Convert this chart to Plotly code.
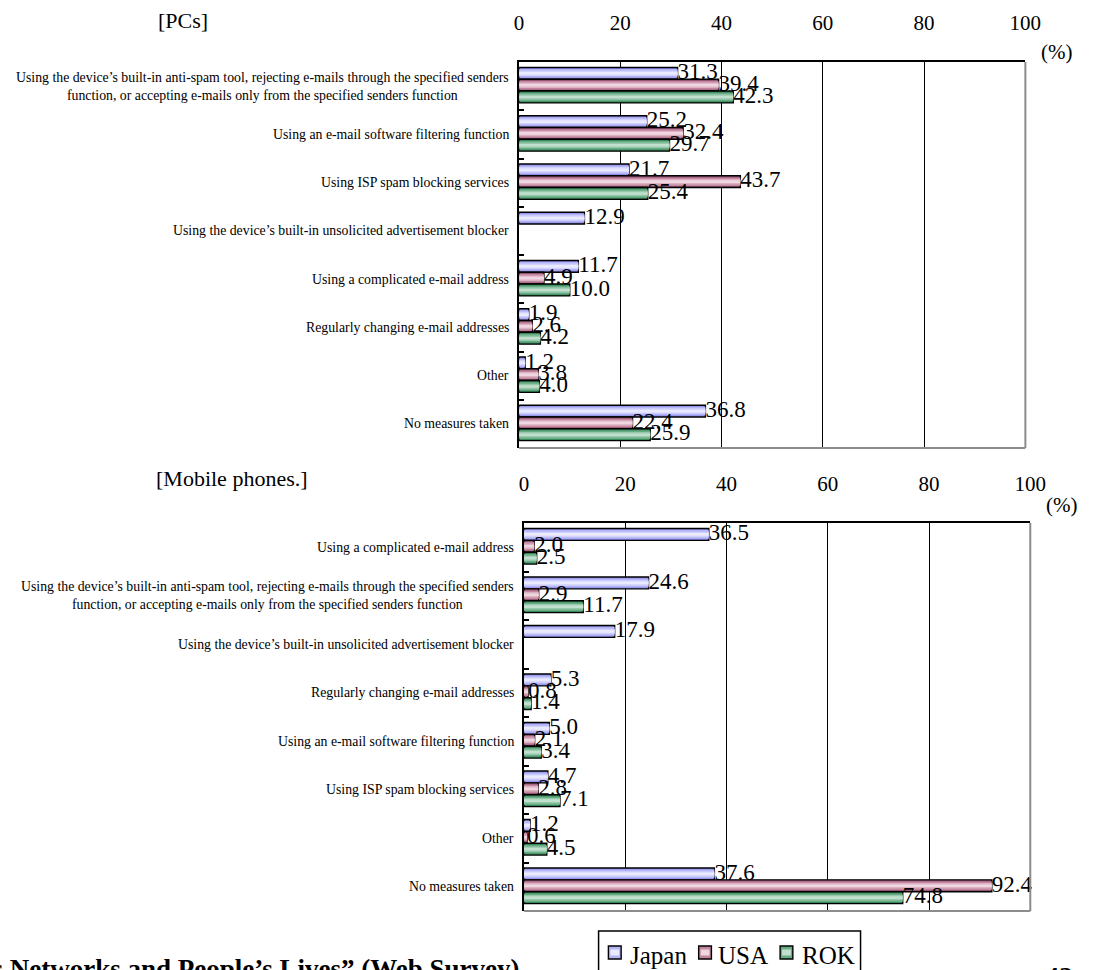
import plotly.graph_objects as go

# ---- data -------------------------------------------------------------
series_names = ["Japan", "USA", "ROK"]

pc_categories = [
    "Using the device’s built-in anti-spam tool, rejecting e-mails through the specified senders<br>"
    "function, or accepting e-mails only from the specified senders function",
    "Using an e-mail software filtering function",
    "Using ISP spam blocking services",
    "Using the device’s built-in unsolicited advertisement blocker",
    "Using a complicated e-mail address",
    "Regularly changing e-mail addresses",
    "Other",
    "No measures taken",
]
pc_japan = [31.3, 25.2, 21.7, 12.9, 11.7, 1.9, 1.2, 36.8]
pc_usa = [39.4, 32.4, 43.7, None, 4.9, 2.6, 3.8, 22.4]
pc_rok = [42.3, 29.7, 25.4, None, 10.0, 4.2, 4.0, 25.9]

mobile_categories = [
    "Using a complicated e-mail address",
    "Using the device’s built-in anti-spam tool, rejecting e-mails through the specified senders<br>"
    "function, or accepting e-mails only from the specified senders function",
    "Using the device’s built-in unsolicited advertisement blocker",
    "Regularly changing e-mail addresses",
    "Using an e-mail software filtering function",
    "Using ISP spam blocking services",
    "Other",
    "No measures taken",
]
mobile_japan = [36.5, 24.6, 17.9, 5.3, 5.0, 4.7, 1.2, 37.6]
mobile_usa = [2.0, 2.9, None, 0.8, 2.1, 2.8, 0.6, 92.4]
mobile_rok = [2.5, 11.7, None, 1.4, 3.4, 7.1, 4.5, 74.8]

x_ticks = [0, 20, 40, 60, 80, 100]

# ---- styling ----------------------------------------------------------
W, H = 1113, 970
SERIF = "Times New Roman, Liberation Serif, serif"

# shade layers per series, outer edge -> bright centre (cylinder-like fill)
shades = {
    "Japan": ["#8e8ee8", "#b4b4f6", "#d2d2ff", "#eaeaff"],
    "USA": ["#985676", "#c2869e", "#dcb2c2", "#f0d6e0"],
    "ROK": ["#38885a", "#68ac86", "#98c8ac", "#c2e0ce"],
}
layer_frac = [1.0, 0.72, 0.46, 0.22]
bar_w = 0.245
shift = -0.02

fig = go.Figure()


def add_panel(values_list, xa, ya):
    for s, (name, vals) in enumerate(zip(series_names, values_list)):
        pos = [i + (s - 1) * bar_w + shift for i in range(len(vals))]
        for k, (frac, col) in enumerate(zip(layer_frac, shades[name])):
            fig.add_trace(go.Bar(
                x=vals, y=pos, orientation="h",
                width=bar_w * frac,
                marker=dict(color=col,
                            line=dict(color="black", width=1.4 if k == 0 else 0)),
                xaxis=xa, yaxis=ya, showlegend=False, hoverinfo="skip",
            ))
        tx = [v for v in vals if v is not None]
        ty = [p for v, p in zip(vals, pos) if v is not None]
        fig.add_trace(go.Scatter(
            x=tx, y=ty, mode="text",
            text=[f"{v:.1f}" for v in tx],
            textposition="middle right",
            textfont=dict(family=SERIF, size=23, color="black"),
            cliponaxis=False, showlegend=False, hoverinfo="skip",
            xaxis=xa, yaxis=ya,
        ))


add_panel([pc_japan, pc_usa, pc_rok], "x", "y")
add_panel([mobile_japan, mobile_usa, mobile_rok], "x2", "y2")

fig.update_layout(barmode="overlay")


def px_x(v):
    return v / W


def px_y(v):
    return 1 - v / H


def x_axis(domain, anchor):
    return dict(
        domain=domain, anchor=anchor, side="top", range=[0, 100],
        tickmode="array", tickvals=x_ticks, ticks="",
        tickfont=dict(family=SERIF, size=21, color="black"),
        ticklabelstandoff=22,
        showgrid=True, gridcolor="black", gridwidth=1.4,
        showline=True, linecolor="black", linewidth=2,
        zeroline=False, fixedrange=True,
    )


def y_axis(domain, anchor, n):
    # short inward ticks on the category boundaries; labels are annotations
    return dict(
        domain=domain, anchor=anchor, range=[n - 0.5, -0.5],
        tickmode="array", tickvals=[i - 0.5 for i in range(n + 1)],
        showticklabels=False, ticks="inside", ticklen=5, tickwidth=1.5,
        tickcolor="black", showgrid=False, zeroline=False,
        showline=True, linecolor="black", linewidth=2,
        fixedrange=True,
    )


fig.update_layout(
    xaxis=x_axis([px_x(524), px_x(1040)], "y"),
    yaxis=y_axis([px_y(448), px_y(62)], "x", len(pc_categories)),
    xaxis2=x_axis([px_x(529), px_x(1045)], "y2"),
    yaxis2=y_axis([px_y(911), px_y(523)], "x2", len(mobile_categories)),
)

annotations = []
shapes = []

# category labels, centred lines, right-aligned against the axis
for i, lab in enumerate(pc_categories):
    annotations.append(dict(
        text=lab, x=px_x(516), xref="paper", xanchor="right",
        y=i, yref="y", yanchor="middle", align="center", showarrow=False,
        font=dict(family=SERIF, size=13.8, color="black")))
for i, lab in enumerate(mobile_categories):
    annotations.append(dict(
        text=lab, x=px_x(521), xref="paper", xanchor="right",
        y=i, yref="y2", yanchor="middle", align="center", showarrow=False,
        font=dict(family=SERIF, size=13.8, color="black")))

# grey right / bottom frame edges
for ax in ("x", "x2"):
    ya = "y" if ax == "x" else "y2"
    for x0, y0, x1, y1 in ((1, 0, 1, 1), (0, 0, 1, 0)):
        shapes.append(dict(type="line", xref=f"{ax} domain", yref=f"{ya} domain",
                           x0=x0, y0=y0, x1=x1, y1=y1,
                           line=dict(color="#8c8c8c", width=2), layer="above"))

# panel headers and unit markers
annotations += [
    dict(text="[PCs]", x=px_x(154), y=px_y(20), xref="paper", yref="paper",
         xanchor="left", yanchor="middle", showarrow=False,
         font=dict(family=SERIF, size=22, color="black")),
    dict(text="[Mobile phones.]", x=px_x(152), y=px_y(478), xref="paper", yref="paper",
         xanchor="left", yanchor="middle", showarrow=False,
         font=dict(family=SERIF, size=22, color="black")),
    dict(text="(%)", x=px_x(1072), y=px_y(52), xref="paper", yref="paper",
         xanchor="center", yanchor="middle", showarrow=False,
         font=dict(family=SERIF, size=21, color="black")),
    dict(text="(%)", x=px_x(1077), y=px_y(505), xref="paper", yref="paper",
         xanchor="center", yanchor="middle", showarrow=False,
         font=dict(family=SERIF, size=21, color="black")),
]

# legend box with swatches
shapes.append(dict(type="rect", xref="paper", yref="paper",
                   x0=px_x(605), x1=px_x(872), y0=px_y(980), y1=px_y(931),
                   line=dict(color="black", width=1.5), fillcolor="white"))
legend_x = [(615, 635), (707, 725), (790, 810)]
for name, (sx, tx) in zip(series_names, legend_x):
    shapes.append(dict(type="rect", xref="paper", yref="paper",
                       x0=px_x(sx), x1=px_x(sx + 13), y0=px_y(959), y1=px_y(946),
                       line=dict(color="black", width=1.4),
                       fillcolor=shades[name][1]))
    shapes.append(dict(type="rect", xref="paper", yref="paper",
                       x0=px_x(sx + 2), x1=px_x(sx + 11), y0=px_y(955.5), y1=px_y(949.5),
                       line=dict(width=0), fillcolor=shades[name][3]))
    annotations.append(dict(text=name, x=px_x(tx), y=px_y(955), xref="paper", yref="paper",
                            xanchor="left", yanchor="middle", showarrow=False,
                            font=dict(family=SERIF, size=25, color="black")))

# source line and page number at the foot
annotations += [
    dict(text="“Ubiquitous Networks and People’s Lives” (Web Survey)",
         x=px_x(527), y=px_y(969), xref="paper", yref="paper",
         xanchor="right", yanchor="middle", showarrow=False,
         font=dict(family=SERIF, size=27, color="black", weight="bold")),
    dict(text="42", x=px_x(1074), y=px_y(976), xref="paper", yref="paper",
         xanchor="center", yanchor="middle", showarrow=False,
         font=dict(family=SERIF, size=28, color="black", weight="bold")),
]

fig.update_layout(
    width=W, height=H,
    margin=dict(l=0, r=0, t=0, b=0),
    paper_bgcolor="white", plot_bgcolor="white",
    showlegend=False,
    annotations=annotations, shapes=shapes,
)

fig.write_html("out.html", config={"displayModeBar": False})
